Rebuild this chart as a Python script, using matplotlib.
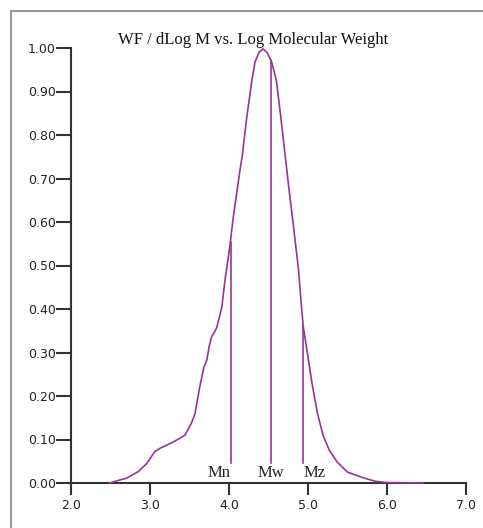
import matplotlib.pyplot as plt
from matplotlib.lines import Line2D

# distribution (log M, WF/dLogM)
log_m = [2.49, 2.60, 2.70, 2.85, 2.96, 3.06, 3.13, 3.21, 3.30, 3.38, 3.44,
         3.48, 3.53, 3.57, 3.63, 3.68, 3.72, 3.75, 3.78, 3.84, 3.87, 3.91,
         3.95, 4.01, 4.05, 4.10, 4.14, 4.17, 4.22, 4.29, 4.33, 4.38, 4.43,
         4.48, 4.54, 4.60, 4.65, 4.70, 4.75, 4.81, 4.88, 4.92, 4.94, 5.05,
         5.12, 5.19, 5.27, 5.37, 5.50, 5.70, 5.85, 6.00, 6.46]
wf = [0.000, 0.006, 0.011, 0.026, 0.045, 0.072, 0.080, 0.087, 0.095, 0.103, 0.110,
      0.122, 0.140, 0.160, 0.221, 0.265, 0.283, 0.315, 0.336, 0.355, 0.375, 0.405,
      0.467, 0.543, 0.605, 0.670, 0.720, 0.755, 0.834, 0.926, 0.968, 0.990, 0.998,
      0.990, 0.968, 0.925, 0.850, 0.770, 0.690, 0.600, 0.490, 0.400, 0.360, 0.230,
      0.160, 0.110, 0.075, 0.048, 0.025, 0.012, 0.004, 0.001, 0.000]

# averages and the height where each marker line meets the curve
avg_names = ["Mn", "Mw", "Mz"]
avg_pos = [4.02, 4.53, 4.94]
avg_top = [0.555, 0.972, 0.36]

x_ticks = [2.0, 3.0, 4.0, 5.0, 6.0, 7.0]
y_ticks = [i / 10 for i in range(11)]

purple = "#993399"
axis_col = "#333333"

fig = plt.figure(figsize=(4.83, 5.28), dpi=100)
ax = fig.add_axes([71 / 483, 45 / 528, 395 / 483, 435 / 528])

ax.plot(log_m, wf, color=purple, lw=1.2, clip_on=False, zorder=3)

# Mn / Mw / Mz lines with labels underneath
for name, xp, top, ha in zip(avg_names, avg_pos, avg_top, ["right", "center", "left"]):
    ax.plot([xp, xp], [0.046, top], color=purple, lw=1.2, zorder=3)
    ax.text(xp, 0.024, name, ha=ha, va="center", fontsize=12,
            family="Liberation Serif", color="#222222")

ax.set_xlim(2, 7)
ax.set_ylim(0, 1)
ax.set_xticks(x_ticks)
ax.set_xticklabels([f"{v:.1f}" for v in x_ticks])
ax.set_yticks(y_ticks)
ax.set_yticklabels([f"{v:.2f}" for v in y_ticks])

for side in ["top", "right"]:
    ax.spines[side].set_visible(False)
for side in ["left", "bottom"]:
    ax.spines[side].set_color(axis_col)
    ax.spines[side].set_linewidth(1.5)

ax.tick_params(axis="x", length=8.5, width=1.5, color=axis_col, pad=3,
               labelsize=9, labelcolor="#222222")
ax.tick_params(axis="y", length=11, width=1.5, color=axis_col, pad=0,
               labelsize=9, labelcolor="#222222")

fig.text(253.5 / 483, 1 - 40 / 528, "WF / dLog M vs. Log Molecular Weight",
         ha="center", va="center", fontsize=12, family="Liberation Serif",
         color="#111111")

# grey frame on top and left edges
fig.add_artist(Line2D([11 / 483, 1], [1 - 11 / 528, 1 - 11 / 528],
                      transform=fig.transFigure, color="#999999", lw=1.5))
fig.add_artist(Line2D([11 / 483, 11 / 483], [0, 1 - 11 / 528],
                      transform=fig.transFigure, color="#999999", lw=1.5))

fig.savefig("out.png", dpi=100)
